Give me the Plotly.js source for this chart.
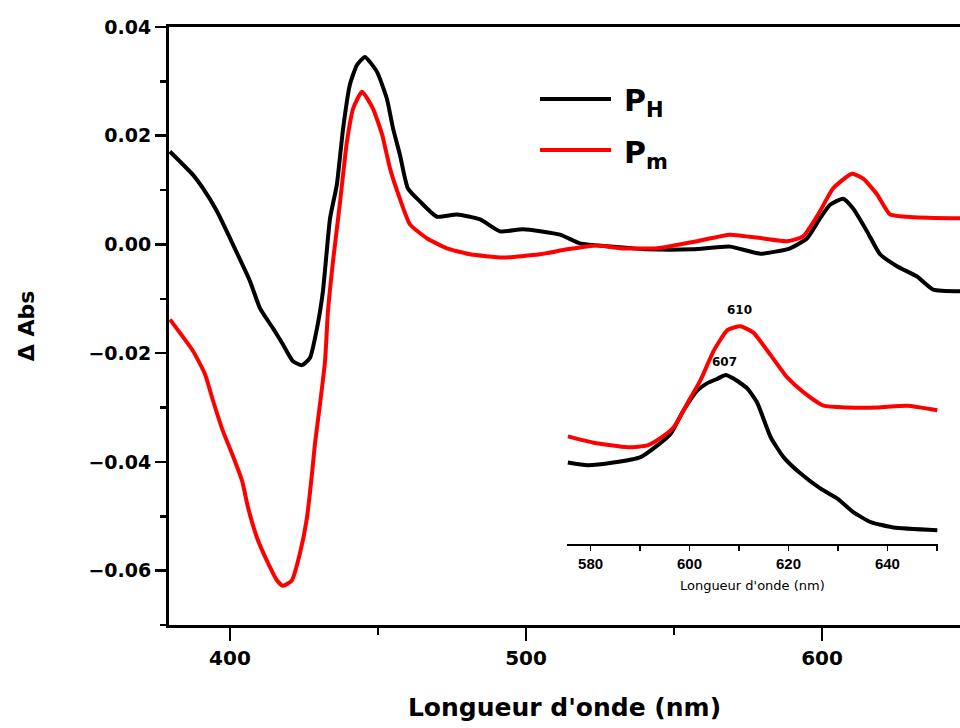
<!DOCTYPE html>
<html>
<head>
<meta charset="utf-8">
<script src="https://cdn.plot.ly/plotly-3.0.1.min.js"></script>
<style>html,body{margin:0;padding:0;background:#fff;overflow:hidden}</style>
</head>
<body>
<div id="chart" style="width:960px;height:728px"></div>
<script>
// Main chart: wavelength (nm) and ΔAbs
const blackX = [379.7,387.5,390.9,395.6,401.0,406.8,410.1,414.5,417.9,421.3,424.3,427.0,429.4,431.4,433.8,436.1,438.2,440.5,442.9,445.6,449.7,453.0,455.1,457.4,460.1,464.2,469.9,476.7,484.5,491.2,499.0,511.5,518.2,529.4,540.9,556.4,568.9,579.1,589.2,594.9,599.3,602.7,607.1,610.5,615.2,619.6,625.3,632.1,637.5,646.6];
const blackY = [0.0171,0.0128,0.0103,0.0061,0.0,-0.0068,-0.0117,-0.0154,-0.0184,-0.0215,-0.0222,-0.0209,-0.0154,-0.0086,0.0048,0.0110,0.0213,0.0294,0.0330,0.0345,0.0317,0.0268,0.0213,0.0165,0.0103,0.0079,0.0051,0.0055,0.0046,0.0024,0.0028,0.0018,0.0002,-0.0004,-0.0009,-0.0009,-0.0004,-0.0017,-0.0007,0.0011,0.0048,0.0073,0.0084,0.0066,0.0024,-0.0018,-0.0040,-0.0059,-0.0083,-0.0086];
const redX = [379.7,387.5,391.6,394.3,397.6,400.7,404.1,406.1,409.1,412.5,415.9,417.9,420.9,423.6,426.0,427.7,428.7,430.4,432.1,433.1,434.8,437.2,439.5,441.6,444.6,448.3,451.4,454.1,457.4,460.8,466.6,473.3,481.1,492.2,504.7,513.9,524.0,531.8,544.3,557.8,568.9,580.1,588.2,593.6,599.3,603.7,610.1,613.9,618.6,623.0,630.7,646.6];
const redY = [-0.0138,-0.0196,-0.0239,-0.0288,-0.0343,-0.0385,-0.0435,-0.0484,-0.0539,-0.0582,-0.0618,-0.0628,-0.0618,-0.0569,-0.0503,-0.0422,-0.0367,-0.0294,-0.0215,-0.0123,-0.0031,0.0079,0.0189,0.0250,0.0281,0.0250,0.0202,0.0139,0.0084,0.0037,0.0011,-0.0007,-0.0018,-0.0024,-0.0018,-0.0009,-0.0002,-0.0007,-0.0007,0.0006,0.0018,0.0011,0.0006,0.0015,0.0061,0.0103,0.0130,0.0121,0.0092,0.0055,0.0050,0.0048];

// Inset (zoom 575-650 nm)
const insetBlackX = [575.4,579.4,584.6,590.1,593.5,596.2,598.8,601.6,603.6,605.7,607.3,608.9,611.7,613.7,616.4,619.0,622.4,626.5,629.9,633.1,636.6,641.2,650.1];
const insetBlackY = [-0.0016,-0.0019,-0.0016,-0.0010,0.0003,0.0016,0.0042,0.0064,0.0072,0.0077,0.0081,0.0077,0.0066,0.0050,0.0012,-0.0010,-0.0028,-0.0045,-0.0056,-0.0071,-0.0082,-0.0088,-0.0091];
const insetRedX = [575.4,580.6,587.5,591.5,594.1,596.8,599.6,602.2,604.9,607.7,610.3,612.9,616.4,619.8,623.0,627.1,631.9,638.0,644.0,650.1];
const insetRedY = [0.0013,0.0006,0.0001,0.0003,0.0011,0.0023,0.0050,0.0075,0.0108,0.0131,0.0135,0.0128,0.0103,0.0078,0.0062,0.0047,0.0045,0.0045,0.0047,0.0042];

const seriesNames = ["P<sub>H</sub>", "P<sub>m</sub>"];
const peakLabels = ["610", "607"];
const peakX = [610, 607];
const peakY = [0.0153, 0.0095];

const xTicks = [400, 500, 600];
const insetTicks = [580, 600, 620, 640];

const FONT = "DejaVu Sans, Arial, sans-serif";
const SMOOTH = {width: 4, shape: "spline", smoothing: 0.5};

const traces = [
  {x: blackX, y: blackY, mode: "lines", name: seriesNames[0], line: Object.assign({color: "#000"}, SMOOTH), xaxis: "x", yaxis: "y"},
  {x: redX, y: redY, mode: "lines", name: seriesNames[1], line: Object.assign({color: "#ff0000"}, SMOOTH), xaxis: "x", yaxis: "y"},
  {x: insetBlackX, y: insetBlackY, mode: "lines", name: seriesNames[0], line: Object.assign({color: "#000"}, SMOOTH), xaxis: "x2", yaxis: "y2"},
  {x: insetRedX, y: insetRedY, mode: "lines", name: seriesNames[1], line: Object.assign({color: "#ff0000"}, SMOOTH), xaxis: "x2", yaxis: "y2"}
];

const layout = {
  width: 960, height: 728,
  margin: {l: 169, r: 0, t: 27, b: 103},
  paper_bgcolor: "#fff", plot_bgcolor: "#fff",
  showlegend: false,
  font: {family: FONT, color: "#000"},
  xaxis: {
    range: [379.4, 646.6], domain: [0, 1],
    tickvals: xTicks, ticks: "outside", ticklen: 13, tickwidth: 2.5, tickcolor: "#000",
    minor: {dtick: 50, tick0: 0, ticks: "outside", ticklen: 7, tickwidth: 2.5, tickcolor: "#000"},
    showline: true, linewidth: 3, linecolor: "#000", mirror: true,
    showgrid: false, zeroline: false,
    tickfont: {family: FONT, size: 20, weight: "bold", color: "#000"},
    title: {text: "Longueur d'onde (nm)", standoff: 30, font: {family: FONT, size: 25, weight: "bold", color: "#000"}}
  },
  yaxis: {
    range: [-0.07, 0.04], domain: [0, 1],
    dtick: 0.02, tick0: 0, tickformat: ".2f",
    ticks: "outside", ticklen: 11, tickwidth: 2.5, tickcolor: "#000",
    minor: {dtick: 0.01, tick0: 0.01, ticks: "outside", ticklen: 6, tickwidth: 2.5, tickcolor: "#000"},
    showline: true, linewidth: 3, linecolor: "#000", mirror: false,
    showgrid: false, zeroline: false,
    tickfont: {family: FONT, size: 19, weight: "bold", color: "#000"},
    title: {text: "Δ Abs", standoff: 48, font: {family: FONT, size: 22, weight: "bold", color: "#000"}}
  },
  xaxis2: {
    anchor: "y2", domain: [0.503, 0.972], range: [575.2, 650.2],
    tickvals: insetTicks, ticks: "outside", ticklen: 5, tickwidth: 1.5, tickcolor: "#000",
    minor: {dtick: 10, tick0: 0, ticks: "outside", ticklen: 5, tickwidth: 1.5, tickcolor: "#000"},
    showline: true, linewidth: 2, linecolor: "#000",
    showgrid: false, zeroline: false,
    tickfont: {family: "Liberation Sans Narrow, Arial Narrow, sans-serif", size: 15, weight: "bold", color: "#000"},
    title: {text: "Longueur d'onde (nm)", standoff: 10, font: {family: FONT, size: 13, color: "#000"}}
  },
  yaxis2: {
    anchor: "x2", domain: [0.135, 0.543], range: [-0.01066, 0.01638],
    visible: false, showgrid: false, zeroline: false
  },
  shapes: [
    {type: "line", xref: "paper", yref: "paper", x0: 0.469, x1: 0.5588, y0: 0.8796, y1: 0.8796, line: {color: "#000", width: 4}},
    {type: "line", xref: "paper", yref: "paper", x0: 0.469, x1: 0.5588, y0: 0.7943, y1: 0.7943, line: {color: "#ff0000", width: 4}}
  ],
  annotations: [
    {xref: "paper", yref: "paper", x: 0.5727, y: 0.8796, xanchor: "left", yanchor: "middle", yshift: -4, showarrow: false, text: "<b>" + seriesNames[0] + "</b>", font: {family: FONT, size: 30, color: "#000"}},
    {xref: "paper", yref: "paper", x: 0.5727, y: 0.7943, xanchor: "left", yanchor: "middle", yshift: -4, showarrow: false, text: "<b>" + seriesNames[1] + "</b>", font: {family: FONT, size: 30, color: "#000"}},
    {xref: "x2", yref: "y2", x: peakX[0], y: peakY[0], showarrow: false, text: "<b>" + peakLabels[0] + "</b>", font: {family: FONT, size: 12, color: "#000"}},
    {xref: "x2", yref: "y2", x: peakX[1], y: peakY[1], showarrow: false, text: "<b>" + peakLabels[1] + "</b>", font: {family: FONT, size: 12, color: "#000"}}
  ]
};

Plotly.newPlot("chart", traces, layout, {displayModeBar: false, staticPlot: true});
</script>
</body>
</html>
